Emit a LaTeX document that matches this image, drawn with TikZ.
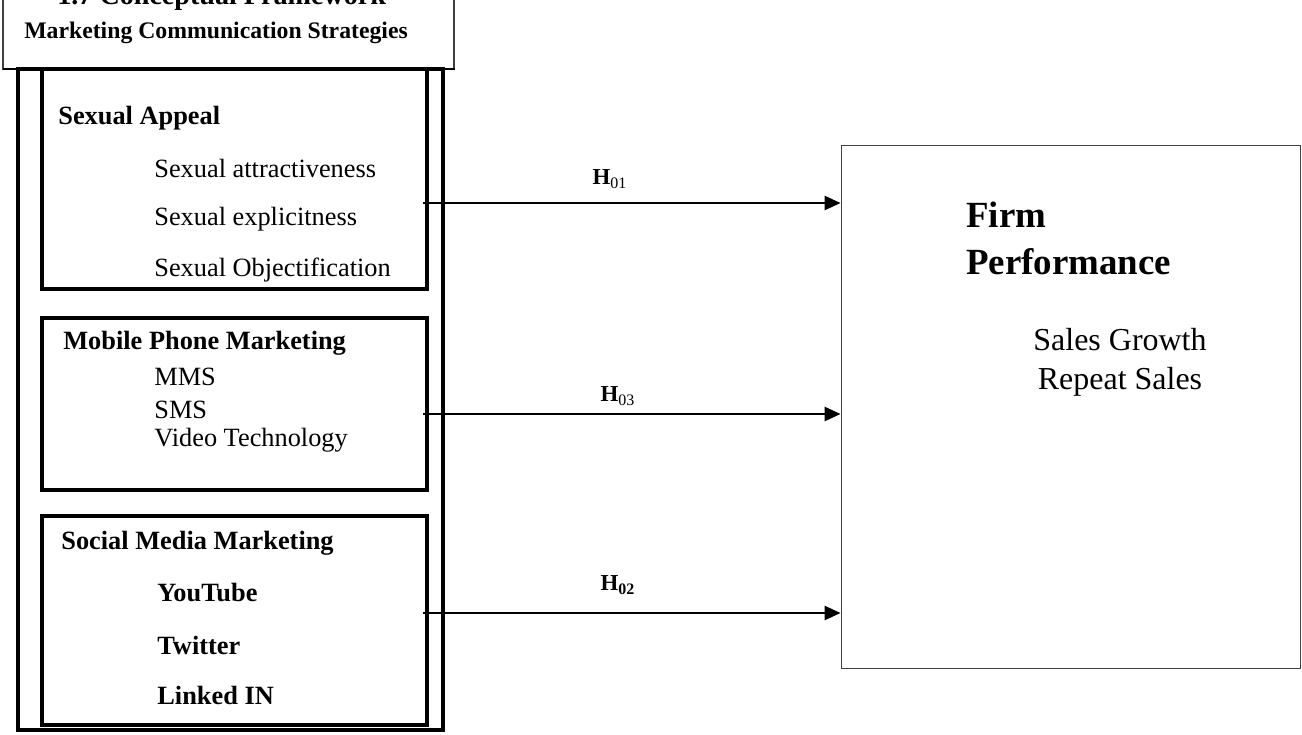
\documentclass[tikz,border=0pt]{standalone}
\usepackage{fontspec}
\setmainfont{Liberation Serif}
\usetikzlibrary{arrows.meta}

\tikzset{
  head/.style={font=\bfseries\fontsize{15}{18}\selectfont, anchor=west, inner sep=0pt},
  item/.style={font=\fontsize{15}{18}\selectfont, anchor=west, inner sep=0pt},
  hyp/.style={font=\bfseries\fontsize{13}{15}\selectfont, inner sep=0pt},
  thickbox/.style={line width=1.9pt},
  link/.style={line width=1.2pt, -{Triangle[length=9pt,width=8pt]}}
}

\begin{document}
\begin{tikzpicture}[x=0.02cm,y=-0.02cm]
    \useasboundingbox (0,0) rectangle (1302,734);

    % title, cut by the page edge
    \node[font=\bfseries\fontsize{16}{19}\selectfont, anchor=base west, inner sep=0pt] (title) at (57,4) {1.7 Conceptual Framework};

    % header box
    \draw[line width=0.6pt, black!75] (3,-2) rectangle (454,69);
    \draw[line width=1.3pt] (3,69) -- (455,69);
    \node[font=\bfseries\fontsize{13.5}{16}\selectfont, anchor=west, inner sep=0pt] (mcs) at (24,33) {Marketing Communication Strategies};

    % outer and inner boxes
    \draw[thickbox] (18,69) rectangle (443,730);
    \foreach \a/\b in {69/289,318/490,516/725}
      \draw[thickbox] (42,\a) rectangle (427,\b);

    % sexual appeal
    \node[head] (sa) at (58,118) {Sexual Appeal};
    \foreach \y/\t/\k in {168/Sexual attractiveness/1,219/Sexual explicitness/2,270/Sexual Objectification/3}
      \node[item] (sa\k) at (154,\y) {\t};

    % mobile phone marketing
    \node[head] (mp) at (63,343) {Mobile Phone Marketing};
    \foreach \y/\t/\k in {377/MMS/1,410/SMS/2,440/Video Technology/3}
      \node[item] (mp\k) at (154,\y) {\t};

    % social media marketing
    \node[head] (sm) at (61,543) {Social Media Marketing};
    \foreach \y/\t/\k in {593/YouTube/1,645/Twitter/2,695/Linked IN/3}
      \node[head] (sm\k) at (157,\y) {\t};

    % firm performance
    \node[draw, line width=0.6pt, black!75, minimum width=9.2cm, minimum height=10.48cm] (firm) at (1071,407) {};
    \node[font=\bfseries\fontsize{21}{26.7}\selectfont, align=left, anchor=west, inner sep=0pt] (fp) at (966,238) {Firm\\Performance};
    \node[font=\fontsize{18.2}{22}\selectfont, align=center, inner sep=0pt] (fpm) at (1120,362) {Sales Growth\\Repeat Sales};

    % hypotheses
    \foreach \y/\k in {203/1,414/3,613/2}
      \coordinate (s\k) at (423,\y);
    \foreach \k in {1,3,2}
      \draw[link] (s\k) -- (firm.west |- s\k);

    \node[hyp] (h1) at (610,179) {H\textsubscript{\mdseries 01}};
    \node[hyp] (h3) at (618,396) {H\textsubscript{\mdseries 03}};
    \node[hyp] (h2) at (618,585) {H\textsubscript{02}};
\end{tikzpicture}
\end{document}
